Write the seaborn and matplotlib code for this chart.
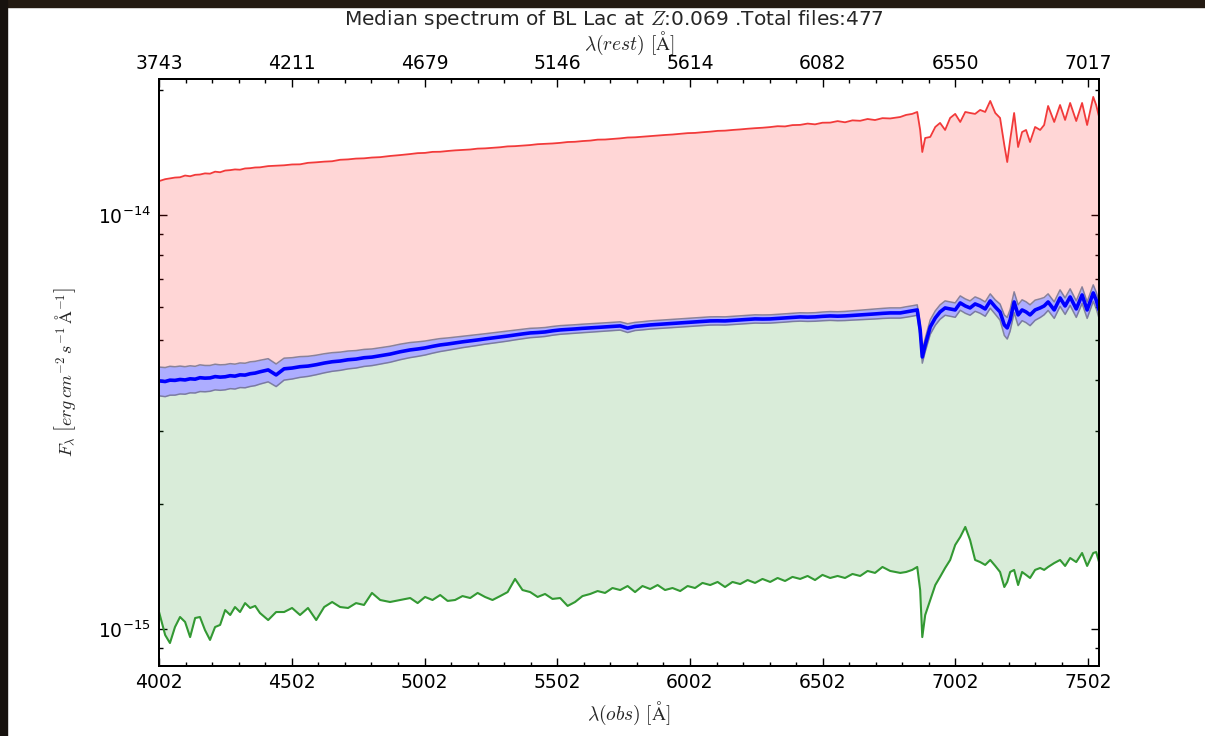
import numpy as np
import pandas as pd
import matplotlib
matplotlib.use("Agg")
import matplotlib.pyplot as plt
from matplotlib.patches import Rectangle
from matplotlib.ticker import FixedLocator, MultipleLocator, FixedFormatter, NullFormatter, LogLocator
import seaborn as sns

# Stacked BL Lac spectrum: observed wavelength grid (Angstrom)
REDSHIFT = 0.069
N_FILES = 477
FLUX_UNIT = 1e-15  # erg cm^-2 s^-1 A^-1

wavelength_obs = [
    4002, 4025, 4043, 4062, 4081, 4100, 4119, 4138, 4156, 4175, 4194, 4213, 4232, 4251, 4270, 4288,
    4307, 4326, 4345, 4364, 4382, 4413, 4443, 4473, 4503, 4533, 4563, 4594, 4624, 4654, 4684, 4714,
    4744, 4774, 4804, 4835, 4872, 4910,
    4948, 4976, 5004, 5032, 5061, 5089, 5117, 5145, 5174, 5202, 5230, 5258, 5287, 5315, 5343, 5371,
    5400, 5428, 5456, 5484, 5513, 5541, 5569, 5597, 5626, 5654, 5682, 5710, 5739, 5767, 5795, 5823,
    5852, 5880, 5908, 5936, 5965, 5993, 6021, 6049, 6078, 6106, 6134, 6162, 6191, 6219, 6247, 6275,
    6304, 6332, 6360, 6388, 6417, 6445, 6473, 6501, 6530, 6558, 6586, 6614, 6643, 6671, 6699, 6727,
    6756,
    6794, 6816, 6839, 6858, 6869, 6877, 6888, 6907, 6926, 6944, 6963, 6982, 7001, 7020, 7039, 7057,
    7076, 7095, 7114, 7133, 7152, 7170, 7186, 7197, 7208, 7223, 7238, 7253, 7268, 7283, 7302, 7321,
    7336, 7351, 7374, 7396, 7415, 7434, 7457, 7479, 7498, 7521, 7532, 7543,
]

# Upper envelope (maximum over all files), units of FLUX_UNIT
flux_max = [
    12.07, 12.20, 12.25, 12.31, 12.33, 12.45, 12.40, 12.50, 12.52, 12.60, 12.58, 12.72, 12.68, 12.80, 12.83, 12.88,
    12.86, 12.95, 12.97, 13.02, 13.03, 13.12, 13.15, 13.18, 13.24, 13.25, 13.36, 13.40, 13.45, 13.48, 13.59, 13.62,
    13.68, 13.70, 13.76, 13.79, 13.88, 13.95,
    14.03, 14.10, 14.12, 14.20, 14.21, 14.27, 14.32, 14.35, 14.39, 14.46,
    14.48, 14.52, 14.57, 14.64, 14.66, 14.70, 14.75, 14.82, 14.85, 14.88,
    14.93, 15.00, 15.02, 15.08, 15.12, 15.20, 15.21, 15.26, 15.31, 15.38,
    15.40, 15.45, 15.50, 15.56, 15.60, 15.64, 15.70, 15.76, 15.78, 15.84,
    15.89, 15.96, 15.98, 16.04, 16.09, 16.15, 16.20, 16.24, 16.30, 16.38,
    16.36, 16.48, 16.50, 16.62, 16.55, 16.70, 16.71, 16.85, 16.74, 16.92,
    16.88, 17.05, 16.95, 17.13, 17.10,
    17.24, 17.44, 17.54, 17.73, 16.04, 14.19, 15.34, 15.43, 16.31, 16.68, 16.04, 17.15, 17.54, 16.77, 17.73, 17.63,
    17.54, 17.93, 17.73, 18.85, 17.63, 17.15, 14.75, 13.42, 15.17, 17.63, 14.59, 15.86, 16.04, 15.00, 16.31, 16.04,
    16.49, 18.33, 16.77, 18.43, 16.96, 18.64, 16.86, 18.64, 16.49, 19.28, 18.43, 17.24,
]

# Median spectrum
flux_median = [
    3.974, 3.960, 3.990, 3.985, 4.005, 3.995, 4.020, 4.012, 4.045, 4.035, 4.040, 4.070, 4.058, 4.066, 4.090, 4.080,
    4.110, 4.104, 4.135, 4.150, 4.180, 4.224, 4.108, 4.250, 4.268, 4.300, 4.315, 4.348, 4.388, 4.420, 4.438, 4.470,
    4.486, 4.520, 4.536, 4.570, 4.612, 4.672,
    4.721, 4.745, 4.774, 4.815, 4.853, 4.878, 4.908, 4.938, 4.963, 4.990,
    5.019, 5.045, 5.074, 5.100, 5.131, 5.160, 5.188, 5.200, 5.217, 5.250,
    5.276, 5.290, 5.305, 5.322, 5.335, 5.350, 5.365, 5.380, 5.395, 5.330,
    5.380, 5.400, 5.425, 5.440, 5.455, 5.470, 5.486, 5.500, 5.516, 5.530,
    5.547, 5.550, 5.547, 5.562, 5.578, 5.595, 5.609, 5.605, 5.609, 5.625,
    5.640, 5.660, 5.672, 5.665, 5.672, 5.690, 5.703, 5.695, 5.703, 5.720,
    5.735, 5.750, 5.767, 5.785, 5.799,
    5.799, 5.831, 5.864, 5.896, 5.276, 4.540, 4.853, 5.365, 5.640, 5.831, 5.962, 5.929, 5.896, 6.130, 6.028, 5.962,
    6.096, 6.028, 5.929, 6.199, 5.995, 5.831, 5.425, 5.335, 5.578, 6.164, 5.735, 5.896, 5.831, 5.735, 5.896, 5.962,
    6.028, 6.164, 5.896, 6.303, 6.028, 6.338, 5.929, 6.409, 5.896, 6.481, 6.233, 5.896,
]

# Uncertainty of the median
flux_median_err = [
    0.317, 0.320, 0.320, 0.314, 0.310, 0.305, 0.302, 0.297, 0.300, 0.295, 0.290, 0.290, 0.287, 0.285, 0.284, 0.282,
    0.281, 0.280, 0.283, 0.280, 0.276, 0.272, 0.258, 0.259, 0.253, 0.248, 0.241, 0.236, 0.233, 0.229, 0.225, 0.222,
    0.218, 0.214, 0.210, 0.208, 0.205, 0.202,
    0.198, 0.192, 0.186, 0.180, 0.175, 0.168, 0.162, 0.158, 0.154, 0.150,
    0.146, 0.146, 0.145, 0.142, 0.139, 0.137, 0.135, 0.132, 0.130, 0.128,
    0.127, 0.126, 0.125, 0.125, 0.125, 0.124, 0.123, 0.124, 0.124, 0.130,
    0.122, 0.123, 0.124, 0.125, 0.125, 0.125, 0.125, 0.126, 0.126, 0.127,
    0.127, 0.127, 0.127, 0.128, 0.128, 0.129, 0.129, 0.129, 0.129, 0.130,
    0.130, 0.131, 0.132, 0.134, 0.135, 0.138, 0.140, 0.142, 0.145, 0.148,
    0.152, 0.156, 0.160, 0.162, 0.165,
    0.165, 0.170, 0.170, 0.170, 0.180, 0.155, 0.180, 0.215, 0.226, 0.233, 0.238, 0.237, 0.236, 0.245, 0.241, 0.238,
    0.244, 0.241, 0.237, 0.248, 0.240, 0.262, 0.309, 0.320, 0.335, 0.357, 0.333, 0.342, 0.338, 0.333, 0.330, 0.310,
    0.289, 0.284, 0.271, 0.290, 0.277, 0.292, 0.273, 0.295, 0.271, 0.298, 0.287, 0.271,
]

# Lower envelope (minimum over all files)
flux_min = [
    1.099, 0.967, 0.925, 1.011, 1.069, 1.040, 0.956, 1.063, 1.069, 0.994, 0.941, 1.011, 1.023, 1.111, 1.081, 1.130,
    1.099, 1.155, 1.124, 1.137, 1.093, 1.051, 1.099, 1.099, 1.124, 1.081, 1.124, 1.051, 1.130, 1.162, 1.130, 1.124,
    1.155, 1.143, 1.222, 1.175, 1.162, 1.175,
    1.188, 1.155, 1.195, 1.175, 1.208, 1.169, 1.175, 1.201, 1.188, 1.222,
    1.195, 1.175, 1.201, 1.228, 1.321, 1.242, 1.228, 1.195, 1.215, 1.182,
    1.188, 1.137, 1.162, 1.201, 1.215, 1.235, 1.222, 1.256, 1.242, 1.270,
    1.228, 1.270, 1.249, 1.277, 1.242, 1.256, 1.235, 1.270, 1.256, 1.292,
    1.277, 1.299, 1.263, 1.299, 1.284, 1.313, 1.292, 1.321, 1.299, 1.328,
    1.306, 1.336, 1.321, 1.343, 1.313, 1.351, 1.328, 1.343, 1.328, 1.358,
    1.343, 1.381, 1.366, 1.412, 1.381,
    1.366, 1.373, 1.389, 1.412, 1.242, 0.956, 1.081, 1.175, 1.277, 1.336, 1.404, 1.468, 1.596, 1.668, 1.764, 1.641,
    1.468, 1.451, 1.428, 1.468, 1.420, 1.373, 1.263, 1.299, 1.373, 1.389, 1.277, 1.373, 1.351, 1.328, 1.389, 1.404,
    1.389, 1.412, 1.443, 1.468, 1.420, 1.484, 1.451, 1.526, 1.420, 1.526, 1.534, 1.451,
]

sns.set_style("ticks")
plt.rcParams.update({
    "font.family": ["DejaVu Sans"],
    "mathtext.fontset": "cm",
    "axes.linewidth": 1.4,
    "axes.edgecolor": "black",
    "xtick.direction": "in",
    "ytick.direction": "in",
    "xtick.major.size": 5.5,
    "ytick.major.size": 5.5,
    "xtick.minor.size": 3,
    "ytick.minor.size": 3,
    "xtick.major.width": 1.0,
    "ytick.major.width": 1.0,
    "xtick.minor.width": 1.0,
    "ytick.minor.width": 1.0,
    "xtick.color": "black",
    "ytick.color": "black",
    "xtick.labelsize": 13.5,
    "ytick.labelsize": 13.5,
})

df = pd.DataFrame({
    "wl": wavelength_obs,
    "fmax": np.array(flux_max) * FLUX_UNIT,
    "fmed": np.array(flux_median) * FLUX_UNIT,
    "ferr": np.array(flux_median_err) * FLUX_UNIT,
    "fmin": np.array(flux_min) * FLUX_UNIT,
})
df["lo"] = df["fmed"] - df["ferr"]
df["hi"] = df["fmed"] + df["ferr"]

fig = plt.figure(figsize=(12.05, 7.36), dpi=100)
fig.patch.set_facecolor("white")
ax = fig.add_axes([0.1320, 0.0951, 0.7801, 0.7976])

# shaded envelopes
ax.fill_between(df["wl"], df["hi"], df["fmax"], color=(1.0, 0.0, 0.0), alpha=0.16, lw=0)
ax.fill_between(df["wl"], df["fmin"], df["lo"], color=(0.0, 0.5, 0.0), alpha=0.15, lw=0)
ax.fill_between(df["wl"], df["lo"], df["hi"], color=(0.0, 0.0, 1.0), alpha=0.32, lw=0)

line_kw = dict(ax=ax, estimator=None, sort=False, legend=False)
sns.lineplot(data=df, x="wl", y="fmax", color="#f23a3a", lw=1.3, **line_kw)
sns.lineplot(data=df, x="wl", y="fmin", color="#339933", lw=1.5, **line_kw)
sns.lineplot(data=df, x="wl", y="hi", color="#6e6e8a", lw=1.1, alpha=0.8, **line_kw)
sns.lineplot(data=df, x="wl", y="lo", color="#6e6e8a", lw=1.1, alpha=0.8, **line_kw)
sns.lineplot(data=df, x="wl", y="fmed", color="#0000ff", lw=2.6, **line_kw)

ax.set_yscale("log")
ax.set_xlim(4002, 7543)
ax.set_ylim(8.14e-16, 2.13e-14)

major_x = np.arange(4002, 7503, 500)
ax.xaxis.set_major_locator(FixedLocator(major_x))
ax.xaxis.set_minor_locator(MultipleLocator(100, offset=2))
ax.xaxis.set_major_formatter(FixedFormatter([str(v) for v in major_x]))
ax.yaxis.set_major_locator(FixedLocator([1e-15, 1e-14]))
ax.yaxis.set_major_formatter(FixedFormatter([r"$\mathdefault{10^{-15}}$", r"$\mathdefault{10^{-14}}$"]))
ax.yaxis.set_minor_locator(LogLocator(base=10, subs=np.arange(2, 10)))
ax.yaxis.set_minor_formatter(NullFormatter())
ax.tick_params(axis="x", which="both", top=False, bottom=True, pad=5)
ax.tick_params(axis="y", which="both", left=True, right=True, pad=6)
ax.set_xlabel(r"$\lambda(obs)\ [\mathrm{\AA}]$", fontsize=14, labelpad=6)
ax.set_ylabel(r"$F_{\lambda}\ \left[erg\,cm^{-2}\,s^{-1}\,\mathrm{\AA}^{-1}\right]$", fontsize=13, labelpad=14)

# rest-frame wavelength axis on top
ax2 = ax.twiny()
ax2.set_xlim(ax.get_xlim())
ax2.xaxis.set_major_locator(FixedLocator(major_x))
ax2.xaxis.set_minor_locator(MultipleLocator(100, offset=2))
ax2.xaxis.set_major_formatter(FixedFormatter([str(int(v / (1 + REDSHIFT))) for v in major_x]))
ax2.tick_params(axis="x", which="both", top=True, bottom=False, pad=4)
ax2.set_xlabel(r"$\lambda(rest)\ [\mathrm{\AA}]$", fontsize=14, labelpad=3)

fig.text(614 / 1205, 1 - 25 / 736,
         "Median spectrum of BL Lac at $Z$:%.3f .Total files:%d" % (REDSHIFT, N_FILES),
         ha="center", va="baseline", fontsize=14.5)

# dark frame at the top and left edges
fig.patches.append(Rectangle((0, 1 - 7 / 736), 1, 7 / 736, transform=fig.transFigure,
                             color="#241b13", zorder=10))
fig.patches.append(Rectangle((0, 0), 7 / 1205, 1, transform=fig.transFigure,
                             color="#17120e", zorder=10))

fig.savefig("out.png", dpi=100)
